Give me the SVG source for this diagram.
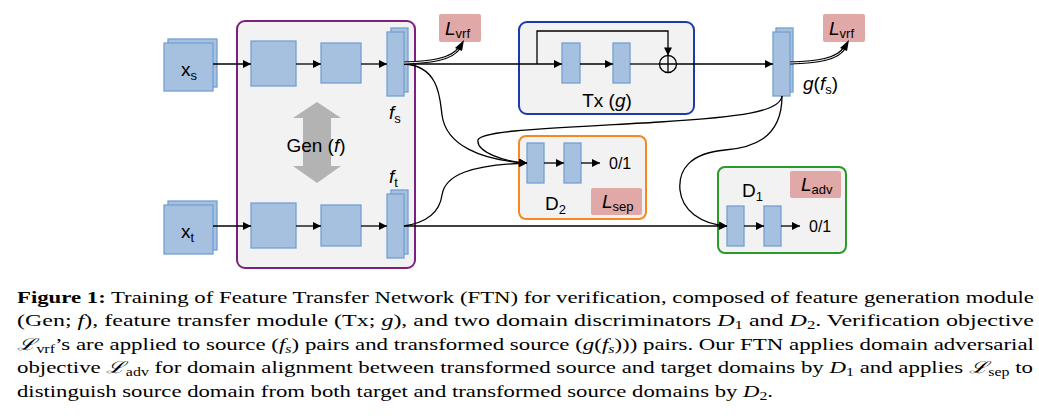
<svg xmlns="http://www.w3.org/2000/svg" width="1039" height="418" viewBox="0 0 1039 418">
<style>
.blk{fill:#a6c1e0;stroke:#74a0d2;stroke-width:1.3}
.mod{fill:#f2f2f2;stroke-width:2}
.loss{fill:#e0a8a6}
.ln{fill:none;stroke:#000;stroke-width:1.3}
.lbl{font-family:"Liberation Sans",Arial,sans-serif;font-size:19px;fill:#000}
.sub{font-size:13px}
.it{font-style:italic}
.cap{font-family:"Liberation Serif","Times New Roman",serif;font-size:16.5px;fill:#000}
.scr{font-family:"DejaVu Serif",serif;font-style:italic}
</style>
<defs>
<marker id="ah" viewBox="0 0 10 10" refX="10" refY="5" markerWidth="9" markerHeight="8" markerUnits="userSpaceOnUse" orient="auto">
<path d="M0,0 L10,5 L0,10 z" fill="#000"/>
</marker>
</defs>

<g id="gen">
<rect class="mod" x="237" y="21" width="178" height="247" rx="8" stroke="#7d1f7f"/>
<polygon points="317,102 341,118 331,118 331,166 341,166 317,183 293,166 303,166 303,118 293,118" fill="#b3b3b3"/>
<text class="lbl" x="316" y="152" text-anchor="middle">Gen (<tspan class="it">f</tspan>)</text>
<rect class="blk" x="251" y="41" width="45" height="45"/>
<rect class="blk" x="321" y="43" width="40" height="40"/>
<rect class="blk" x="251" y="203" width="45" height="45"/>
<rect class="blk" x="321" y="205" width="40" height="41"/>
</g>

<g id="xs">
<rect class="blk" x="168" y="39" width="49" height="48"/>
<rect class="blk" x="164" y="43" width="49" height="48"/>
<text class="lbl" x="181" y="76">x<tspan class="sub" dy="4">s</tspan></text>
</g>
<g id="xt">
<rect class="blk" x="168" y="201" width="49" height="49"/>
<rect class="blk" x="164" y="205" width="49" height="49"/>
<text class="lbl" x="181" y="238">x<tspan class="sub" dy="4">t</tspan></text>
</g>

<g id="fs">
<rect class="blk" x="391" y="28" width="17" height="64"/>
<rect class="blk" x="387" y="32" width="17" height="64"/>
<text class="lbl" x="389" y="119"><tspan class="it">f</tspan><tspan class="sub" dy="4">s</tspan></text>
</g>
<g id="ft">
<rect class="blk" x="391" y="190" width="17" height="64"/>
<rect class="blk" x="387" y="194" width="17" height="64"/>
<text class="lbl" x="389" y="183"><tspan class="it">f</tspan><tspan class="sub" dy="4">t</tspan></text>
</g>

<g id="lvrf1">
<rect class="loss" x="439" y="14" width="42" height="28" rx="2"/>
<text class="lbl" x="445" y="35"><tspan class="it">L</tspan><tspan class="sub" dy="3">vrf</tspan></text>
</g>

<g id="tx">
<rect class="mod" x="519" y="22" width="175" height="92" rx="8" stroke="#1c3aa9"/>
<rect class="blk" x="562" y="43" width="18" height="40"/>
<rect class="blk" x="613" y="43" width="17" height="40"/>
<circle cx="668" cy="64" r="8.5" fill="none" stroke="#000" stroke-width="1.3"/>
<path class="ln" d="M659.5,64 H676.5 M668,55.5 V72.5"/>
<text class="lbl" x="607" y="107" text-anchor="middle">Tx (<tspan class="it">g</tspan>)</text>
</g>

<g id="gfs">
<rect class="blk" x="776" y="28" width="17" height="64"/>
<rect class="blk" x="773" y="32" width="17" height="64"/>
<text class="lbl" x="803" y="90"><tspan class="it">g</tspan>(<tspan class="it">f</tspan><tspan class="sub" dy="4">s</tspan><tspan dy="-4">)</tspan></text>
</g>

<g id="lvrf2">
<rect class="loss" x="823" y="14" width="42" height="28" rx="2"/>
<text class="lbl" x="829" y="35"><tspan class="it">L</tspan><tspan class="sub" dy="3">vrf</tspan></text>
</g>

<g id="d2">
<rect class="mod" x="519" y="136" width="127" height="83" rx="7" stroke="#f5891f"/>
<rect class="blk" x="527" y="143" width="17" height="40"/>
<rect class="blk" x="564" y="143" width="17" height="40"/>
<text class="lbl" x="609" y="169" style="font-size:16px">0/1</text>
<text class="lbl" x="545" y="210">D<tspan class="sub" dy="4">2</tspan></text>
<rect class="loss" x="591" y="188" width="51" height="27" rx="2"/>
<text class="lbl" x="602" y="208"><tspan class="it">L</tspan><tspan class="sub" dy="3">sep</tspan></text>
</g>

<g id="d1">
<rect class="mod" x="718" y="167" width="128" height="86" rx="7" stroke="#2a9a2a"/>
<text class="lbl" x="742" y="197">D<tspan class="sub" dy="4">1</tspan></text>
<rect class="loss" x="790" y="171" width="51" height="27" rx="2"/>
<text class="lbl" x="801" y="191"><tspan class="it">L</tspan><tspan class="sub" dy="3">adv</tspan></text>
<rect class="blk" x="727" y="206" width="17" height="40"/>
<rect class="blk" x="764" y="206" width="17" height="40"/>
<text class="lbl" x="809" y="232" style="font-size:16px">0/1</text>
</g>

<g id="connectors">
<path class="ln" d="M213,64 H251" marker-end="url(#ah)"/>
<path class="ln" d="M296,64 H321" marker-end="url(#ah)"/>
<path class="ln" d="M361,64 H387" marker-end="url(#ah)"/>
<path class="ln" d="M213,226 H251" marker-end="url(#ah)"/>
<path class="ln" d="M296,226 H321" marker-end="url(#ah)"/>
<path class="ln" d="M361,226 H387" marker-end="url(#ah)"/>
<path class="ln" d="M404,64 H562" marker-end="url(#ah)"/>
<path class="ln" d="M537,64 V31 H668 V55.5" marker-end="url(#ah)"/>
<path class="ln" d="M580,64 H613" marker-end="url(#ah)"/>
<path class="ln" d="M630,64 H659.5"/>
<path class="ln" d="M676.5,64 H773" marker-end="url(#ah)"/>
<path class="ln" d="M404,226 H727" marker-end="url(#ah)"/>
<path class="ln" d="M544,163 H564" marker-end="url(#ah)"/>
<path class="ln" d="M581,163 H600" marker-end="url(#ah)"/>
<path class="ln" d="M744,226 H764" marker-end="url(#ah)"/>
<path class="ln" d="M781,226 H800" marker-end="url(#ah)"/>
<path class="ln" d="M404,64 C440,66 440,100 442,115 C446,145 480,160 527,163" marker-end="url(#ah)"/>
<path class="ln" d="M404,226 C430,222 440,210 442,195 C445,175 470,165 527,163" marker-end="url(#ah)"/>
<path class="ln" d="M782,96 C780,112 740,117 660,122 C560,128 480,130 478,140 C476,152 505,162 527,163" marker-end="url(#ah)"/>
<path class="ln" d="M782,96 C782,140 750,148 725,150 C690,153 678,170 680,190 C682,210 700,224 727,226" marker-end="url(#ah)"/>
<path d="M404,63 C430,62 452,60 460,47" fill="none" stroke="#000" stroke-width="3.2"/>
<path d="M404,63 C430,62 452,60 460,47" fill="none" stroke="#fff" stroke-width="1"/>
<path d="M455,48 L464,40 L462,51 z" fill="#000"/>
<path d="M790,63 C816,62 838,60 845,47" fill="none" stroke="#000" stroke-width="3.2"/>
<path d="M790,63 C816,62 838,60 845,47" fill="none" stroke="#fff" stroke-width="1"/>
<path d="M840,48 L849,40 L847,51 z" fill="#000"/>
</g>

<g id="caption" class="cap">
<text x="17" y="302.5" textLength="1017" lengthAdjust="spacingAndGlyphs"><tspan font-weight="bold">Figure 1:</tspan> Training of Feature Transfer Network (FTN) for verification, composed of feature generation module</text>
<text x="17" y="326" textLength="1017" lengthAdjust="spacingAndGlyphs">(Gen; <tspan class="it">f</tspan>), feature transfer module (Tx; <tspan class="it">g</tspan>), and two domain discriminators <tspan class="it">D</tspan><tspan font-size="11.5" dy="3">1</tspan><tspan dy="-3"> and </tspan><tspan class="it">D</tspan><tspan font-size="11.5" dy="3">2</tspan><tspan dy="-3">. Verification objective</tspan></text>
<text x="17" y="349.5" textLength="1017" lengthAdjust="spacingAndGlyphs"><tspan class="scr">ℒ</tspan><tspan font-size="11.5" dy="3">vrf</tspan><tspan dy="-3">’s are applied to source (</tspan><tspan class="it">f</tspan><tspan class="it" font-size="11.5" dy="3">s</tspan><tspan dy="-3">) pairs and transformed source (</tspan><tspan class="it">g</tspan>(<tspan class="it">f</tspan><tspan class="it" font-size="11.5" dy="3">s</tspan><tspan dy="-3">))) pairs. Our FTN applies domain adversarial</tspan></text>
<text x="17" y="373" textLength="1016" lengthAdjust="spacingAndGlyphs">objective <tspan class="scr">ℒ</tspan><tspan font-size="11.5" dy="3">adv</tspan><tspan dy="-3"> for domain alignment between transformed source and target domains by </tspan><tspan class="it">D</tspan><tspan font-size="11.5" dy="3">1</tspan><tspan dy="-3"> and applies </tspan><tspan class="scr">ℒ</tspan><tspan font-size="11.5" dy="3">sep</tspan><tspan dy="-3"> to</tspan></text>
<text x="17" y="396.5" textLength="756" lengthAdjust="spacingAndGlyphs">distinguish source domain from both target and transformed source domains by <tspan class="it">D</tspan><tspan font-size="11.5" dy="3">2</tspan><tspan dy="-3">.</tspan></text>
</g>
</svg>
